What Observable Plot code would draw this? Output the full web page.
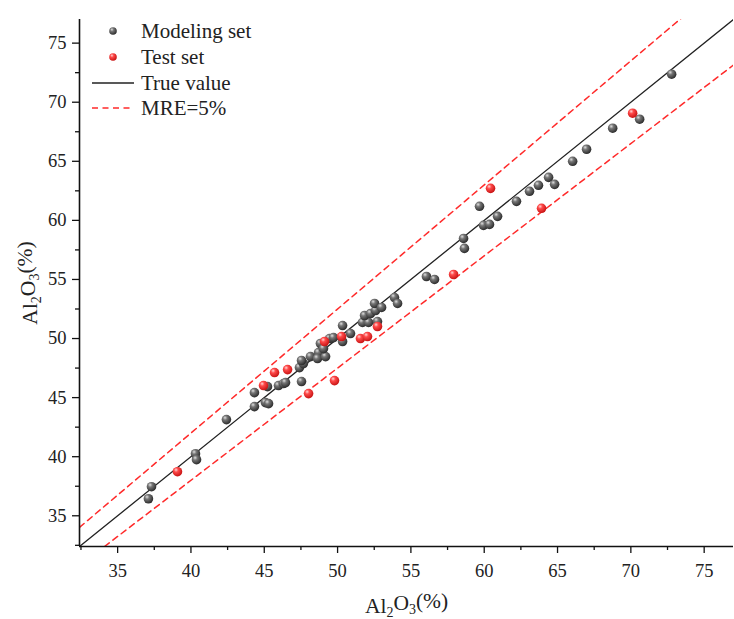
<!DOCTYPE html>
<html><head><meta charset="utf-8">
<script src="https://cdn.jsdelivr.net/npm/d3@7"></script>
<script src="https://cdn.jsdelivr.net/npm/@observablehq/plot@0.6"></script>
<style>
body{margin:0;background:#fff}
#wrap{position:relative;width:734px;height:619px;font-family:"Liberation Serif","Times New Roman",serif}
#legend{position:absolute;left:0;top:0;pointer-events:none}
</style>
</head><body><div id="wrap"></div>
<script>
// Modeling set (measured, predicted)
const modelX=[37.10,37.31,40.31,40.38,42.42,44.33,44.33,45.08,45.29,45.22,45.97,46.31,46.45,47.54,47.40,47.67,47.54,48.15,48.70,48.63,49.18,48.83,49.04,49.45,49.72,50.34,50.34,50.88,51.70,52.11,52.72,51.84,52.25,52.59,52.52,53.00,53.88,54.09,56.06,56.61,58.59,58.65,59.68,59.95,60.36,60.91,62.20,63.09,63.70,64.39,64.80,66.03,66.98,68.76,70.60,72.78];
const modelY=[36.44,37.46,40.25,39.75,43.14,45.42,44.24,44.58,44.49,45.93,46.02,46.19,46.27,46.36,47.54,47.88,48.14,48.47,48.81,48.31,48.47,49.58,49.15,50.00,50.08,49.75,51.10,50.42,51.36,51.36,51.44,51.95,52.12,52.37,52.97,52.63,53.47,52.97,55.25,55.00,58.47,57.63,61.19,59.58,59.66,60.34,61.61,62.46,62.97,63.64,63.05,65.00,66.02,67.80,68.56,72.37];
// Test set
const testX=[39.08,44.95,45.70,46.59,48.02,49.79,49.11,50.27,51.56,52.04,52.72,57.91,60.43,63.91,70.12];
const testY=[38.73,46.02,47.12,47.37,45.34,46.44,49.75,50.17,50.00,50.17,51.02,55.42,62.71,61.02,69.07];
const majorTicks=[35,40,45,50,55,60,65,70,75];
const minorTicks=[32.5,37.5,42.5,47.5,52.5,57.5,62.5,67.5,72.5];
const axisDomain=[32.4,77];
const mre=0.05;
const legendLabels=["Modeling set","Test set","True value","MRE=5%"];

const modelData=modelX.map((x,i)=>({x,y:modelY[i]}));
const testData=testX.map((x,i)=>({x,y:testY[i]}));
const lineXs=axisDomain;

const plot=Plot.plot({
  width:734,height:619,
  marginLeft:79,marginRight:1,marginTop:19,marginBottom:73,
  style:{fontFamily:"Liberation Serif, Times New Roman, serif",fontSize:"18px",color:"#222",background:"#fff"},
  x:{domain:axisDomain},
  y:{domain:axisDomain},
  marks:[
    Plot.line(lineXs,{x:d=>d,y:d=>d*(1+mre),stroke:"#ff2a2a",strokeWidth:1.5,strokeDasharray:"6,4.5",clip:true}),
    Plot.line(lineXs,{x:d=>d,y:d=>d*(1-mre),stroke:"#ff2a2a",strokeWidth:1.5,strokeDasharray:"6,4.5",clip:true}),
    Plot.line(lineXs,{x:d=>d,y:d=>d,stroke:"#222",strokeWidth:1.3,clip:true}),
    Plot.dot(modelData,{x:"x",y:"y",r:4.8,fill:"url(#gGray)",stroke:"none"}),
    Plot.dot(testData,{x:"x",y:"y",r:4.8,fill:"url(#gRed)",stroke:"none"}),
    Plot.axisX(majorTicks,{tickSize:7,tickPadding:10,fontSize:18.5,label:"Al2O3(%)",labelAnchor:"center",labelOffset:66,stroke:"#111",strokeWidth:1.3}),
    Plot.axisX(minorTicks,{tickSize:4,text:null,label:null,stroke:"#111",strokeWidth:1.3}),
    Plot.axisY(majorTicks,{tickSize:7,tickPadding:6,fontSize:18.5,label:"Al2O3(%)",labelAnchor:"center",labelOffset:58,stroke:"#111",strokeWidth:1.3}),
    Plot.axisY(minorTicks,{tickSize:4,text:null,label:null,stroke:"#111",strokeWidth:1.3}),
    Plot.ruleY([axisDomain[0]],{stroke:"#111",strokeWidth:1.6}),
    Plot.ruleX([axisDomain[0]],{stroke:"#111",strokeWidth:1.6})
  ]
});

const svg=d3.select(plot);
const defs=svg.insert("defs",":first-child");
function grad(sel,id,stops){
  const g=sel.append("radialGradient").attr("id",id).attr("cx","0.38").attr("cy","0.35").attr("r","0.65").attr("fx","0.35").attr("fy","0.3");
  stops.forEach(([o,c])=>g.append("stop").attr("offset",o).attr("stop-color",c));
}
const grayStops=[["0%","#e0e0e0"],["35%","#777"],["100%","#2c2c2c"]];
const redStops=[["0%","#ffd6d6"],["35%","#ff4a4a"],["100%","#c81414"]];
grad(defs,"gGray",grayStops);
grad(defs,"gRed",redStops);

// subscripted axis labels
svg.selectAll('g[aria-label="x-axis label"] text, g[aria-label="y-axis label"] text').each(function(){
  const t=d3.select(this);
  t.text(null).attr("font-size",21.5).attr("fill","#222");
  t.append("tspan").text("Al");
  t.append("tspan").attr("font-size",14).attr("dy","0.3em").text("2");
  t.append("tspan").attr("dy","-0.3em").text("O");
  t.append("tspan").attr("font-size",14).attr("dy","0.3em").text("3");
  t.append("tspan").attr("dy","-0.3em").text("(%)");
});
svg.selectAll('g[aria-label="x-axis tick label"] text, g[aria-label="y-axis tick label"] text').attr("fill","#222");

const wrap=document.getElementById("wrap");
wrap.appendChild(plot);

// legend overlay
const lg=d3.select(wrap).append("svg").attr("id","legend").attr("width",734).attr("height",619);
const ldefs=lg.append("defs");
grad(ldefs,"lgGray",grayStops);
grad(ldefs,"lgRed",redStops);
const rowY=[31,57,83,108];
lg.append("circle").attr("cx",113).attr("cy",rowY[0]).attr("r",3.8).attr("fill","url(#lgGray)");
lg.append("circle").attr("cx",113).attr("cy",rowY[1]).attr("r",3.8).attr("fill","url(#lgRed)");
lg.append("line").attr("x1",92).attr("x2",134).attr("y1",rowY[2]).attr("y2",rowY[2]).attr("stroke","#222").attr("stroke-width",1.3);
lg.append("line").attr("x1",92).attr("x2",134).attr("y1",rowY[3]).attr("y2",rowY[3]).attr("stroke","#ff2a2a").attr("stroke-width",1.5).attr("stroke-dasharray","6,4.5");
legendLabels.forEach((s,i)=>{
  lg.append("text").attr("x",141).attr("y",rowY[i]).attr("dy","0.35em").attr("font-size",21).attr("fill","#222").attr("font-family","Liberation Serif, Times New Roman, serif").text(s);
});
</script>
</body></html>
